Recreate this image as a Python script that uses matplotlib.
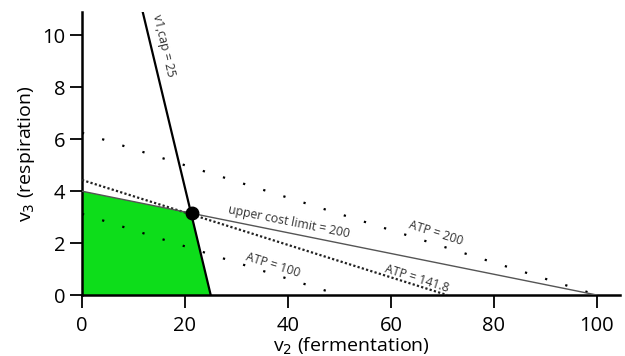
import numpy as np
import matplotlib
matplotlib.use("Agg")
import matplotlib.pyplot as plt

plt.rcParams['font.family'] = ['Open Sans', 'DejaVu Sans']

# constraint lines, as (v2, v3) end points
v1cap_line = [(25, 0), (11.8, 10.9)]
cost_line = [(0, 4.0), (100, 0)]
atp_values = [100, 141.8, 200]
atp_v2_yield = 2.0
atp_v3_yield = 32.0
feasible_poly = [(0, 0), (0, 4.0), (21.3, 3.15), (25, 0)]
optimum = (21.3, 3.15)

xticks = [0, 20, 40, 60, 80, 100]
yticks = [0, 2, 4, 6, 8, 10]

fig = plt.figure(figsize=(6.25, 3.56), dpi=100)
ax = fig.add_axes([0.1312, 0.1713, 0.8608, 0.7947])

px, py = zip(*feasible_poly)
ax.fill(px, py, color='#0ddd1a', lw=0, zorder=1)

# ATP iso-lines
for atp in atp_values:
    x0 = atp / atp_v2_yield
    y0 = atp / atp_v3_yield
    if atp == 141.8:
        ax.plot([0, x0], [y0, 0], color='#222222', lw=1.6, ls=(0, (1, 1)), zorder=3)
    else:
        ax.plot([0, x0], [y0, 0], color='black', lw=1.6, ls=(0, (1, 8.5)), zorder=3)

(cx0, cy0), (cx1, cy1) = cost_line
ax.plot([cx0, cx1], [cy0, cy1], color='#555555', lw=1.0, zorder=4)

(vx0, vy0), (vx1, vy1) = v1cap_line
ax.plot([vx0, vx1], [vy0, vy1], color='black', lw=1.6, zorder=5)

ax.plot(*optimum, 'o', color='black', ms=9, zorder=6)

txt = dict(fontsize=8.8, color='#333333', ha='center', va='center')
ax.text(15.9, 9.6, 'v1,cap = 25', rotation=-76.7, **txt)
ax.text(40.2, 2.8, 'upper cost limit = 200', rotation=-11.4, **txt)
ax.text(68.7, 2.38, 'ATP = 200', rotation=-17.5, **txt)
ax.text(65.0, 0.62, 'ATP = 141.8', rotation=-17.5, **txt)
ax.text(37.1, 1.15, 'ATP = 100', rotation=-17.5, **txt)

ax.set_xlim(0, 104.5)
ax.set_ylim(0, 10.9)
ax.set_xticks(xticks)
ax.set_yticks(yticks)
ax.tick_params(labelsize=14.5, length=9, width=1.3, pad=3)
ax.tick_params(axis='x', pad=6)
for s in ['top', 'right']:
    ax.spines[s].set_visible(False)
for s in ['left', 'bottom']:
    ax.spines[s].set_linewidth(1.8)
ax.set_xlabel('v$_2$ (fermentation)', fontsize=14, labelpad=0)
ax.set_ylabel('v$_3$ (respiration)', fontsize=14, labelpad=4)

fig.savefig('out.png', dpi=100)
